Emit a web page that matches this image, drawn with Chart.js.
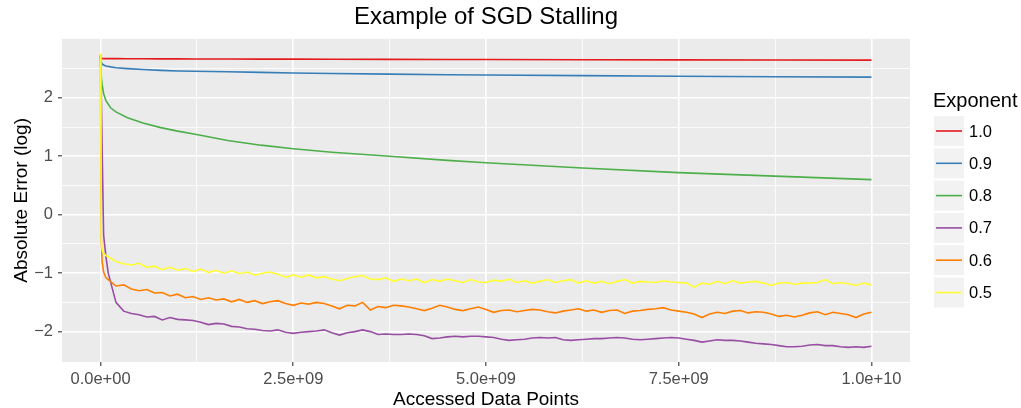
<!DOCTYPE html>
<html>
<head>
<meta charset="utf-8">
<script src="https://cdn.jsdelivr.net/npm/chart.js@4/dist/chart.umd.min.js"></script>
<style>
  html, body { margin: 0; padding: 0; background: #fff; }
  #wrap { width: 1021px; height: 408px; position: relative; }
</style>
</head>
<body>
<div id="wrap"><canvas id="chart"></canvas></div>
<script>
// ---- data (x in units of 1e9 accessed data points) ----
const exponents = ["1.0", "0.9", "0.8", "0.7", "0.6", "0.5"];

const smoothX = [0, 0.005, 0.01, 0.02, 0.04, 0.07, 0.13, 0.2, 0.35, 0.55, 0.78, 1.0,
  1.21, 1.65, 2.08, 2.5, 3.0, 3.75, 4.5, 5.0, 6.25, 7.5, 8.75, 10.0];

const err10 = [2.72, 2.68, 2.675, 2.672, 2.671, 2.67, 2.67, 2.67, 2.669, 2.668, 2.667, 2.666,
  2.665, 2.664, 2.663, 2.662, 2.66, 2.658, 2.656, 2.655, 2.652, 2.649, 2.647, 2.645];
const err09 = [2.74, 2.65, 2.61, 2.58, 2.56, 2.545, 2.53, 2.515, 2.50, 2.485, 2.47, 2.46,
  2.455, 2.445, 2.435, 2.425, 2.415, 2.405, 2.395, 2.39, 2.38, 2.37, 2.36, 2.355];
const err08 = [2.72, 2.45, 2.35, 2.23, 2.07, 1.95, 1.83, 1.76, 1.66, 1.57, 1.49, 1.43,
  1.38, 1.27, 1.19, 1.13, 1.07, 1.0, 0.93, 0.89, 0.80, 0.72, 0.66, 0.60];

const headX = [0, 0.005, 0.01, 0.02, 0.04, 0.07];
const tailX = Array.from({ length: 100 }, (_, i) => (i + 1) / 10);
const noisyX = headX.concat(tailX);

const err07 = [2.72, 2.4, 2.0, 1.2, -0.35, -0.72,
  -1.00, -1.50, -1.65, -1.69, -1.71, -1.75, -1.74, -1.80, -1.76, -1.79,
  -1.80, -1.81, -1.84, -1.88, -1.86, -1.87, -1.91, -1.92, -1.95, -1.96,
  -1.98, -1.99, -1.97, -2.01, -2.03, -2.01, -2.00, -1.99, -1.97, -2.02,
  -2.06, -2.02, -2.00, -1.97, -2.00, -2.05, -2.04, -2.05, -2.05, -2.04,
  -2.05, -2.07, -2.12, -2.11, -2.09, -2.08, -2.09, -2.08, -2.08, -2.09,
  -2.10, -2.13, -2.15, -2.14, -2.13, -2.11, -2.10, -2.11, -2.10, -2.14,
  -2.15, -2.14, -2.13, -2.12, -2.12, -2.11, -2.10, -2.11, -2.13, -2.14,
  -2.13, -2.12, -2.11, -2.10, -2.11, -2.13, -2.15, -2.18, -2.16, -2.14,
  -2.15, -2.15, -2.16, -2.18, -2.20, -2.21, -2.22, -2.24, -2.26, -2.26,
  -2.25, -2.23, -2.22, -2.24, -2.24, -2.26, -2.27, -2.26, -2.27, -2.25];

const err06 = [2.72, 0.5, -0.45, -0.80, -0.98, -1.08,
  -1.11, -1.22, -1.20, -1.27, -1.30, -1.28, -1.34, -1.33, -1.39, -1.36,
  -1.42, -1.40, -1.45, -1.42, -1.46, -1.44, -1.49, -1.45, -1.50, -1.47,
  -1.52, -1.49, -1.47, -1.52, -1.55, -1.51, -1.53, -1.50, -1.52, -1.56,
  -1.61, -1.55, -1.56, -1.50, -1.63, -1.57, -1.59, -1.55, -1.56, -1.58,
  -1.61, -1.64, -1.60, -1.55, -1.58, -1.62, -1.64, -1.61, -1.58, -1.62,
  -1.67, -1.64, -1.63, -1.66, -1.64, -1.62, -1.63, -1.66, -1.68, -1.65,
  -1.63, -1.61, -1.65, -1.63, -1.67, -1.64, -1.63, -1.69, -1.65, -1.64,
  -1.62, -1.61, -1.59, -1.63, -1.65, -1.67, -1.70, -1.76, -1.70, -1.67,
  -1.69, -1.65, -1.64, -1.68, -1.66, -1.67, -1.70, -1.74, -1.72, -1.75,
  -1.72, -1.68, -1.66, -1.71, -1.67, -1.69, -1.71, -1.76, -1.70, -1.67];

const err05 = [2.76, 1.2, -0.45, -0.60, -0.66, -0.70,
  -0.72, -0.80, -0.84, -0.86, -0.83, -0.90, -0.88, -0.94, -0.90, -0.95,
  -0.92, -0.97, -0.93, -0.99, -0.95, -1.00, -0.96, -1.01, -0.98, -1.03,
  -1.00, -0.98, -1.02, -1.07, -1.03, -1.07, -1.03, -1.08, -1.06, -1.10,
  -1.13, -1.09, -1.06, -1.04, -1.10, -1.11, -1.08, -1.14, -1.10, -1.13,
  -1.10, -1.16, -1.11, -1.14, -1.10, -1.13, -1.16, -1.11, -1.15, -1.16,
  -1.12, -1.14, -1.10, -1.16, -1.13, -1.17, -1.14, -1.11, -1.16, -1.13,
  -1.11, -1.17, -1.13, -1.17, -1.14, -1.18, -1.14, -1.11, -1.17, -1.14,
  -1.15, -1.16, -1.13, -1.15, -1.16, -1.17, -1.24, -1.17, -1.19, -1.14,
  -1.18, -1.13, -1.17, -1.15, -1.14, -1.17, -1.21, -1.17, -1.16, -1.19,
  -1.17, -1.17, -1.16, -1.11, -1.18, -1.16, -1.18, -1.21, -1.17, -1.20];

// axis breaks
const xMajor = [0, 2.5e9, 5e9, 7.5e9, 1e10];
const xMajorLabels = ["0.0e+00", "2.5e+09", "5.0e+09", "7.5e+09", "1.0e+10"];
const xMinor = [1.25e9, 3.75e9, 6.25e9, 8.75e9];
const yMajor = [-2, -1, 0, 1, 2];
const yMajorLabels = ["\u22122", "\u22121", "0", "1", "2"];
const yMinor = [-1.5, -0.5, 0.5, 1.5, 2.5];

// ---- chart ----
const palette = ["#E41A1C", "#377EB8", "#4DAF4A", "#984EA3", "#FF7F00", "#FFFF33"];
const FONT = "'Liberation Sans', Arial, Helvetica, sans-serif";

function toPoints(xs, ys) {
  return ys.map((y, i) => ({ x: xs[i] * 1e9, y: y }));
}

const seriesY = [err10, err09, err08, err07, err06, err05];
const seriesX = [smoothX, smoothX, smoothX, noisyX, noisyX, noisyX];

const datasets = exponents.map((label, i) => ({
  label: label,
  data: toPoints(seriesX[i], seriesY[i]),
  borderColor: palette[i],
  backgroundColor: palette[i],
  borderWidth: 1.6,
  pointRadius: 0,
  tension: 0,
  order: exponents.length - i
}));

const isMajor = (list, v) => list.indexOf(v) >= 0;

const panelBackground = {
  id: "panelBackground",
  beforeDraw(chart) {
    const { ctx, chartArea: a } = chart;
    ctx.save();
    ctx.fillStyle = "#EBEBEB";
    ctx.fillRect(a.left, a.top, a.right - a.left, a.bottom - a.top);
    ctx.restore();
  }
};

const ggLegend = {
  id: "ggLegend",
  afterDraw(chart) {
    const ctx = chart.ctx;
    const left = chart.chartArea.right + 24;
    ctx.save();
    ctx.fillStyle = "#000";
    ctx.textBaseline = "alphabetic";
    ctx.font = "20px " + FONT;
    ctx.fillText("Exponent", left - 1, 106.5);
    ctx.font = "16.5px " + FONT;
    ctx.textBaseline = "middle";
    chart.data.datasets.forEach((ds, i) => {
      const top = 116 + i * 32.3;
      ctx.fillStyle = "#F2F2F2";
      ctx.fillRect(left, top, 30, 30);
      ctx.strokeStyle = ds.borderColor;
      ctx.lineWidth = 1.6;
      ctx.beginPath();
      ctx.moveTo(left + 2, top + 15);
      ctx.lineTo(left + 28, top + 15);
      ctx.stroke();
      ctx.fillStyle = "#000";
      ctx.fillText(ds.label, left + 35, top + 16);
    });
    ctx.restore();
  }
};

new Chart(document.getElementById("chart"), {
  type: "line",
  data: { datasets: datasets },
  plugins: [panelBackground, ggLegend],
  options: {
    responsive: true,
    maintainAspectRatio: false,
    animation: false,
    events: [],
    layout: { padding: { left: 0, right: 111, top: 0, bottom: 0 } },
    plugins: {
      legend: { display: false },
      tooltip: { enabled: false },
      title: {
        display: true,
        fullSize: false,
        text: "Example of SGD Stalling",
        color: "#000",
        font: { family: FONT, size: 24, weight: "normal", lineHeight: 1.2 },
        padding: { top: 3, bottom: 7 }
      }
    },
    scales: {
      x: {
        type: "linear",
        min: -5e8,
        max: 1.05e10,
        border: { display: false },
        afterFit(scale) { scale.height = 46; },
        afterBuildTicks(scale) {
          scale.ticks = xMajor.concat(xMinor).sort((a, b) => a - b).map(v => ({ value: v }));
        },
        grid: {
          color: "#FFFFFF",
          lineWidth: c => isMajor(xMajor, c.tick.value) ? 1.6 : 0.8,
          drawTicks: true,
          tickLength: 4,
          tickWidth: 1.1,
          tickColor: c => isMajor(xMajor, c.tick.value) ? "#333333" : "rgba(0,0,0,0)"
        },
        ticks: {
          autoSkip: false,
          maxRotation: 0,
          padding: 4,
          color: "#4D4D4D",
          font: { family: FONT, size: 16.5 },
          callback: v => { const k = xMajor.indexOf(v); return k < 0 ? "" : xMajorLabels[k]; }
        },
        title: {
          display: true,
          text: "Accessed Data Points",
          color: "#000",
          font: { family: FONT, size: 19, lineHeight: 0.9 },
          padding: { top: 0, bottom: 0 }
        }
      },
      y: {
        type: "linear",
        min: -2.52,
        max: 3.01,
        border: { display: false },
        afterFit(scale) { scale.width = 62; },
        afterBuildTicks(scale) {
          scale.ticks = yMajor.concat(yMinor).sort((a, b) => a - b).map(v => ({ value: v }));
        },
        grid: {
          color: "#FFFFFF",
          lineWidth: c => isMajor(yMajor, c.tick.value) ? 1.6 : 0.8,
          drawTicks: true,
          tickLength: 4,
          tickWidth: 1.1,
          tickColor: c => isMajor(yMajor, c.tick.value) ? "#333333" : "rgba(0,0,0,0)"
        },
        ticks: {
          autoSkip: false,
          padding: 5,
          color: "#4D4D4D",
          font: { family: FONT, size: 16.5 },
          callback: v => { const k = yMajor.indexOf(v); return k < 0 ? "" : yMajorLabels[k]; }
        },
        title: {
          display: true,
          text: "Absolute Error (log)",
          color: "#000",
          font: { family: FONT, size: 19, lineHeight: 1.2 },
          padding: { top: 10, bottom: 0 }
        }
      }
    }
  }
});
</script>
</body>
</html>
